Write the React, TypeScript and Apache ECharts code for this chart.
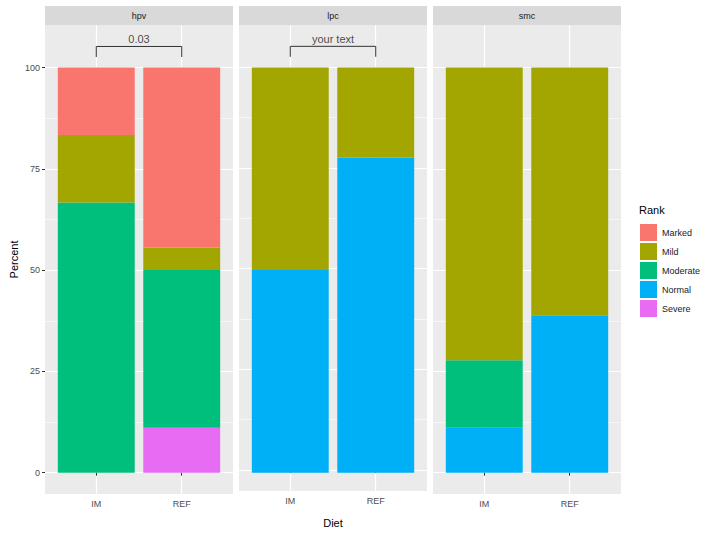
import React, { useEffect, useRef } from 'react'
import * as echarts from 'echarts'

// facets, diets and ranks
const facets = ['hpv', 'lpc', 'smc']
const diets = ['IM', 'REF']
const ranks = ['Marked', 'Mild', 'Moderate', 'Normal', 'Severe']
const rankColors = ['#F8766D', '#A3A500', '#00BF7D', '#00B0F6', '#E76BF3']

// percent per rank, [IM, REF], one array per facet
const hpvValues: number[][] = [
  [16.67, 44.44], // Marked
  [16.67, 5.56], // Mild
  [66.67, 38.89], // Moderate
  [0, 0], // Normal
  [0, 11.11] // Severe
]
const lpcValues: number[][] = [
  [0, 0],
  [50, 22.22],
  [0, 0],
  [50, 77.78],
  [0, 0]
]
const smcValues: number[][] = [
  [0, 0],
  [72.22, 61.11],
  [16.67, 0],
  [11.11, 38.89],
  [0, 0]
]
const facetValues = [hpvValues, lpcValues, smcValues]

const yTicks = [0, 25, 50, 75, 100]
const yMinorTicks = [12.5, 37.5, 62.5, 87.5]

// significance brackets per facet
const bracketLabels: (string | null)[] = ['0.03', 'your text', null]
const bracketTop = 105.2
const bracketTip = 102.6

const FONT = 'Liberation Sans, Arial, sans-serif'
const Y_MIN = -5.26
const Y_MAX = 110.5

const App: React.FC = () => {
  const chartRef = useRef<HTMLDivElement>(null)

  useEffect(() => {
    document.body.style.margin = '0'
    if (!chartRef.current) return
    const chart = echarts.init(chartRef.current, null, { renderer: 'svg' })

    const panelLeft = [45, 239, 433]
    const panelWidth = 188
    const panelTop = 25
    const panelHeight = 469
    // ggplot pads a discrete axis by 0.6 units, category bands give 0.5
    const inset = (panelWidth / 2.2) * 0.1

    const grids: any[] = []
    const xAxes: any[] = []
    const yAxes: any[] = []
    const series: any[] = []

    facets.forEach((_, i) => {
      // panel grid: background, gridlines, ticks and labels
      grids.push({
        left: panelLeft[i],
        top: panelTop,
        width: panelWidth,
        height: panelHeight,
        show: true,
        backgroundColor: '#EBEBEB',
        borderWidth: 0
      })
      // bar grid, inset so that bands sit where ggplot puts them
      grids.push({
        left: panelLeft[i] + inset,
        top: panelTop,
        width: panelWidth - 2 * inset,
        height: panelHeight
      })
      const pg = i * 2
      const bg = i * 2 + 1

      xAxes.push({
        type: 'value',
        gridIndex: pg,
        min: 0.4,
        max: 2.6,
        axisLine: { show: false },
        axisTick: {
          show: true,
          customValues: [1, 2],
          length: 3,
          lineStyle: { color: '#333333', width: 1 }
        },
        axisLabel: {
          customValues: [1, 2],
          formatter: (v: number) => diets[Math.round(v) - 1] || '',
          color: '#4D4D4D',
          fontSize: 9,
          fontFamily: FONT,
          margin: 5
        },
        splitLine: { show: true, lineStyle: { color: '#FFFFFF', width: 1.2 } },
        name: i === 1 ? 'Diet' : '',
        nameLocation: 'middle',
        nameGap: 26,
        nameTextStyle: { color: '#000000', fontSize: 11, fontFamily: FONT }
      })
      xAxes.push({
        type: 'category',
        gridIndex: bg,
        data: diets,
        show: false
      })

      // y axes: major (panel), minor gridlines (panel), bars
      yAxes.push({
        type: 'value',
        gridIndex: pg,
        min: Y_MIN,
        max: Y_MAX,
        axisLine: { show: false },
        axisTick: {
          show: i === 0,
          customValues: yTicks,
          length: 3,
          lineStyle: { color: '#333333', width: 1 }
        },
        axisLabel: {
          show: i === 0,
          customValues: yTicks,
          color: '#4D4D4D',
          fontSize: 9,
          fontFamily: FONT,
          margin: 5
        },
        splitLine: { show: true, lineStyle: { color: '#FFFFFF', width: 1.2 } },
        name: i === 0 ? 'Percent' : '',
        nameLocation: 'middle',
        nameGap: 26,
        nameTextStyle: { color: '#000000', fontSize: 11, fontFamily: FONT }
      })
      yAxes.push({
        type: 'value',
        gridIndex: pg,
        position: 'left',
        min: Y_MIN,
        max: Y_MAX,
        axisLine: { show: false },
        axisTick: { show: false, customValues: yMinorTicks },
        axisLabel: { show: false, customValues: yMinorTicks },
        splitLine: { show: true, lineStyle: { color: '#FFFFFF', width: 0.6 } }
      })
      yAxes.push({
        type: 'value',
        gridIndex: bg,
        min: Y_MIN,
        max: Y_MAX,
        show: false,
        splitLine: { show: false }
      })
      const yPanel = i * 3
      const yBar = i * 3 + 2

      // stack bottom-up: Severe first, Marked on top
      for (let r = ranks.length - 1; r >= 0; r--) {
        series.push({
          type: 'bar',
          name: ranks[r],
          xAxisIndex: bg,
          yAxisIndex: yBar,
          stack: 'facet' + i,
          barWidth: '90%',
          itemStyle: { color: rankColors[r] },
          emphasis: { disabled: true },
          data: facetValues[i][r]
        })
      }

      const label = bracketLabels[i]
      if (label) {
        series.push({
          type: 'line',
          xAxisIndex: pg,
          yAxisIndex: yPanel,
          symbol: 'none',
          silent: true,
          lineStyle: { color: '#333333', width: 1 },
          data: [
            [1, bracketTip],
            [1, bracketTop],
            [2, bracketTop],
            [2, bracketTip]
          ]
        })
        series.push({
          type: 'scatter',
          xAxisIndex: pg,
          yAxisIndex: yPanel,
          symbolSize: 0,
          silent: true,
          label: {
            show: true,
            position: 'top',
            distance: 2,
            formatter: label,
            color: '#1A1A1A',
            fontSize: 11,
            fontFamily: FONT
          },
          data: [[1.5, bracketTop]]
        })
      }
    })

    const graphics: any[] = []
    facets.forEach((name, i) => {
      graphics.push({
        type: 'rect',
        shape: { x: panelLeft[i], y: 6, width: panelWidth, height: 19 },
        style: { fill: '#D9D9D9' },
        silent: true
      })
      graphics.push({
        type: 'text',
        x: panelLeft[i] + panelWidth / 2,
        y: 15.5,
        style: {
          text: name,
          fill: '#1A1A1A',
          font: `9px ${FONT}`,
          align: 'center',
          verticalAlign: 'middle'
        },
        silent: true
      })
    })
    graphics.push({
      type: 'text',
      x: 639,
      y: 210,
      style: {
        text: 'Rank',
        fill: '#000000',
        font: `11px ${FONT}`,
        align: 'left',
        verticalAlign: 'middle'
      },
      silent: true
    })

    chart.setOption({
      animation: false,
      grid: grids,
      xAxis: xAxes,
      yAxis: yAxes,
      legend: {
        data: ranks,
        orient: 'vertical',
        left: 635,
        top: 219,
        itemWidth: 17,
        itemHeight: 17,
        itemGap: 2,
        icon: 'rect',
        selectedMode: false,
        textStyle: { color: '#1A1A1A', fontSize: 9, fontFamily: FONT }
      },
      graphic: graphics,
      series
    })

    return () => {
      chart.dispose()
    }
  }, [])

  return <div ref={chartRef} style={{ width: '720px', height: '533px', background: '#FFFFFF' }} />
}

export default App
